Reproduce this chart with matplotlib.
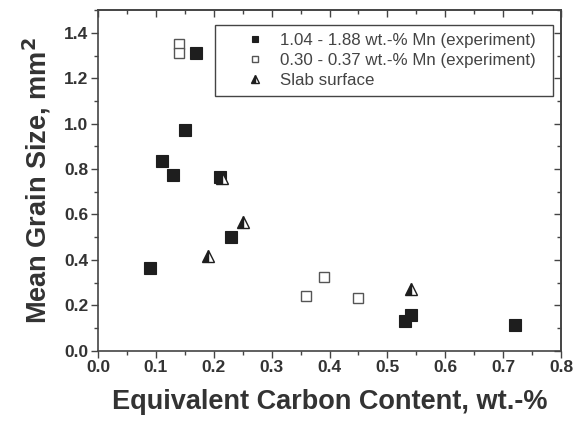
import matplotlib
matplotlib.use("Agg")
import matplotlib.pyplot as plt
from matplotlib.ticker import MultipleLocator

plt.rcParams['font.family'] = ['Liberation Sans', 'DejaVu Sans']

# Data
high_mn_x = [0.09, 0.11, 0.13, 0.15, 0.17, 0.21, 0.23, 0.53, 0.54, 0.72]
high_mn_y = [0.365, 0.835, 0.775, 0.97, 1.31, 0.765, 0.50, 0.13, 0.155, 0.115]
low_mn_x = [0.14, 0.14, 0.36, 0.39, 0.45]
low_mn_y = [1.35, 1.31, 0.24, 0.325, 0.23]
slab_x = [0.19, 0.215, 0.25, 0.54]
slab_y = [0.415, 0.76, 0.565, 0.27]

labels = ["1.04 - 1.88 wt.-% Mn (experiment)",
          "0.30 - 0.37 wt.-% Mn (experiment)",
          "Slab surface"]

dark = '#1e1e1e'
grey = '#444444'

fig = plt.figure(figsize=(5.81, 4.21), dpi=100)
ax = fig.add_axes([0.1687, 0.167, 0.9656 - 0.1687, 0.976 - 0.167])

ax.plot(high_mn_x, high_mn_y, 's', ms=8, mfc=dark, mec=dark, mew=0.8, ls='none', label=labels[0] + "  ")
ax.plot(low_mn_x, low_mn_y, 's', ms=7.3, mfc='white', mec='#555555', mew=1.0, ls='none', label=labels[1])
ax.plot(slab_x, slab_y, '^', ms=9, fillstyle='left', mfc=dark, mfcalt='white', mec=dark, mew=1.0, ls='none', label=labels[2])

ax.set_xlim(0.0, 0.8)
ax.set_ylim(0.0, 1.5)
ax.xaxis.set_minor_locator(MultipleLocator(0.05))
ax.yaxis.set_minor_locator(MultipleLocator(0.1))
ax.set_xticks([0.0, 0.1, 0.2, 0.3, 0.4, 0.5, 0.6, 0.7, 0.8])
ax.set_yticks([0.0, 0.2, 0.4, 0.6, 0.8, 1.0, 1.2, 1.4])
ax.xaxis.set_major_formatter(matplotlib.ticker.FormatStrFormatter('%.1f'))
ax.yaxis.set_major_formatter(matplotlib.ticker.FormatStrFormatter('%.1f'))

ax.tick_params(which='major', direction='out', length=5, width=1, color=grey,
               labelsize=12.5, labelcolor='#333333', pad=2)
ax.tick_params(which='minor', direction='out', length=3, width=1, color=grey)
for lbl in ax.get_xticklabels() + ax.get_yticklabels():
    lbl.set_fontweight('bold')

for s in ax.spines.values():
    s.set_color(grey)
    s.set_linewidth(1.2)

top = ax.secondary_xaxis('top')
top.xaxis.set_major_locator(MultipleLocator(0.1))
top.xaxis.set_minor_locator(MultipleLocator(0.05))
top.tick_params(which='major', direction='in', length=5, width=1, color=grey, labeltop=False)
top.tick_params(which='minor', direction='in', length=3, width=1, color=grey)
top.spines['top'].set_color(grey)
top.spines['top'].set_linewidth(1.2)
right = ax.secondary_yaxis('right')
right.yaxis.set_major_locator(MultipleLocator(0.2))
right.yaxis.set_minor_locator(MultipleLocator(0.1))
right.tick_params(which='major', direction='in', length=5, width=1, color=grey, labelright=False)
right.tick_params(which='minor', direction='in', length=3, width=1, color=grey)
right.spines['right'].set_color(grey)
right.spines['right'].set_linewidth(1.2)

ax.set_xlabel("Equivalent Carbon Content, wt.-%", fontsize=19.5, fontweight='bold', color='#333333', labelpad=10)
ax.set_ylabel("Mean Grain Size, mm$^\\mathbf{2}$", fontsize=19.5, fontweight='bold', color='#333333', labelpad=8)

leg = ax.legend(loc='upper right', bbox_to_anchor=(0.9827, 0.956), borderaxespad=0,
                fontsize=12.2, markerscale=0.6,
                frameon=True, fancybox=False, edgecolor=grey, framealpha=1,
                handletextpad=-0.37, borderpad=0.45, labelspacing=0.3, handlelength=3.74)
leg.get_frame().set_linewidth(1.0)
for t in leg.get_texts():
    t.set_color('#444444')

fig.savefig("out.png", dpi=100)
